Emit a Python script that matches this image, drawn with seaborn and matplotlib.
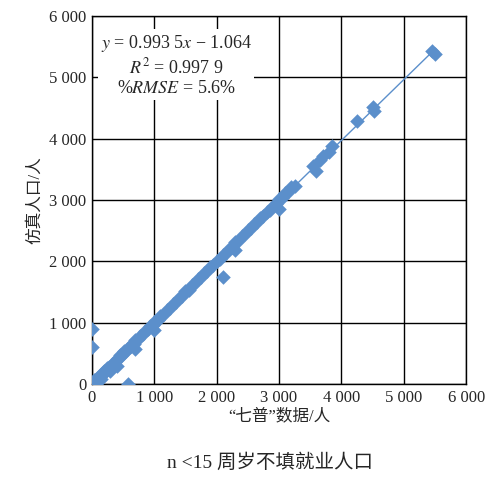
import matplotlib
matplotlib.use("Agg")
import matplotlib.pyplot as plt
import seaborn as sns
import pandas as pd

sns.set_style("white")
plt.rcParams["font.family"] = ["Liberation Serif", "Noto Sans CJK SC"]
plt.rcParams["mathtext.fontset"] = "stix"

census = [0, 20, 40, 60, 80, 100, 130, 160, 190, 220, 250, 280, 310, 340, 370, 400,
          430, 460, 490, 520, 550, 580, 610, 640, 670, 700, 740, 780, 820, 860, 900,
          940, 980, 1020, 1060, 1100, 1150, 1200, 1250, 1300, 1350, 1400, 1450, 1500,
          1550, 1600, 1650, 1700, 1750, 1800, 1850, 1900, 1950, 2000, 2050, 2100, 2150,
          2200, 2250, 2300, 2350, 2400, 2450, 2500, 2550, 2600, 2650, 2700, 2750, 2800,
          2850, 2900, 2950, 3000, 3050, 3100, 3150, 3200, 3250, 3550, 3600, 3650, 3700,
          3800, 3850, 4250, 4500, 4530, 5450, 5500,
          0, 0, 580, 2100, 400, 700, 1000, 150, 300, 2300, 3000]
simulated = [10, 0, 60, 40, 100, 80, 150, 140, 210, 190, 260, 270, 300, 350, 360, 410,
             420, 470, 480, 530, 540, 590, 600, 650, 660, 710, 730, 790, 810, 870, 890,
             950, 970, 1030, 1050, 1110, 1140, 1210, 1240, 1310, 1340, 1410, 1440, 1510,
             1540, 1610, 1640, 1710, 1740, 1810, 1840, 1910, 1940, 2010, 2040, 2110, 2140,
             2210, 2240, 2310, 2340, 2410, 2440, 2510, 2540, 2610, 2640, 2710, 2740, 2810,
             2840, 2910, 2940, 3010, 3040, 3110, 3140, 3210, 3230, 3560, 3480, 3650, 3720,
             3780, 3880, 4290, 4520, 4460, 5440, 5380,
             900, 600, 0, 1750, 300, 570, 880, 80, 210, 2180, 2850]

SLOPE, INTERCEPT = 0.9935, -1.064
BLUE = "#5b8fcb"

df = pd.DataFrame({"x": census, "y": simulated})

fig = plt.figure(figsize=(4.96, 4.91), dpi=100)
ax = fig.add_axes([0.185, 0.218, 0.755, 0.749])

sns.scatterplot(data=df, x="x", y="y", marker="D", s=55, color=BLUE,
                edgecolor=BLUE, linewidth=0, ax=ax, zorder=3)
xs = [0, max(census)]
ax.plot(xs, [SLOPE * v + INTERCEPT for v in xs], color=BLUE, lw=1, zorder=2)

ticks = [0, 1000, 2000, 3000, 4000, 5000, 6000]
labels = ["0", "1 000", "2 000", "3 000", "4 000", "5 000", "6 000"]
ax.set_xlim(0, 6000)
ax.set_ylim(0, 6000)
ax.set_xticks(ticks, labels, fontsize=12)
ax.set_yticks(ticks, labels, fontsize=12)
ax.grid(True, color="black", lw=1)
ax.set_axisbelow(True)
for s in ax.spines.values():
    s.set_color("black")
    s.set_linewidth(1)
ax.tick_params(length=0, pad=4)

ax.set_xlabel("“七普”数据/人", fontsize=12, labelpad=2)
ax.set_ylabel("仿真人口/人", fontsize=12, labelpad=4)

ax.text(1350, 5720,
        "$y$ = 0.993 5$x$ − 1.064\n$R^2$ = 0.997 9\n%$RMSE$ = 5.6%",
        ha="center", va="top", fontsize=13, linespacing=1.2,
        bbox=dict(facecolor="white", edgecolor="none", pad=2), zorder=4)

fig.text(0.545, 0.047, "n <15 周岁不填就业人口", ha="center", fontsize=14)

fig.savefig("out.png", dpi=100)
